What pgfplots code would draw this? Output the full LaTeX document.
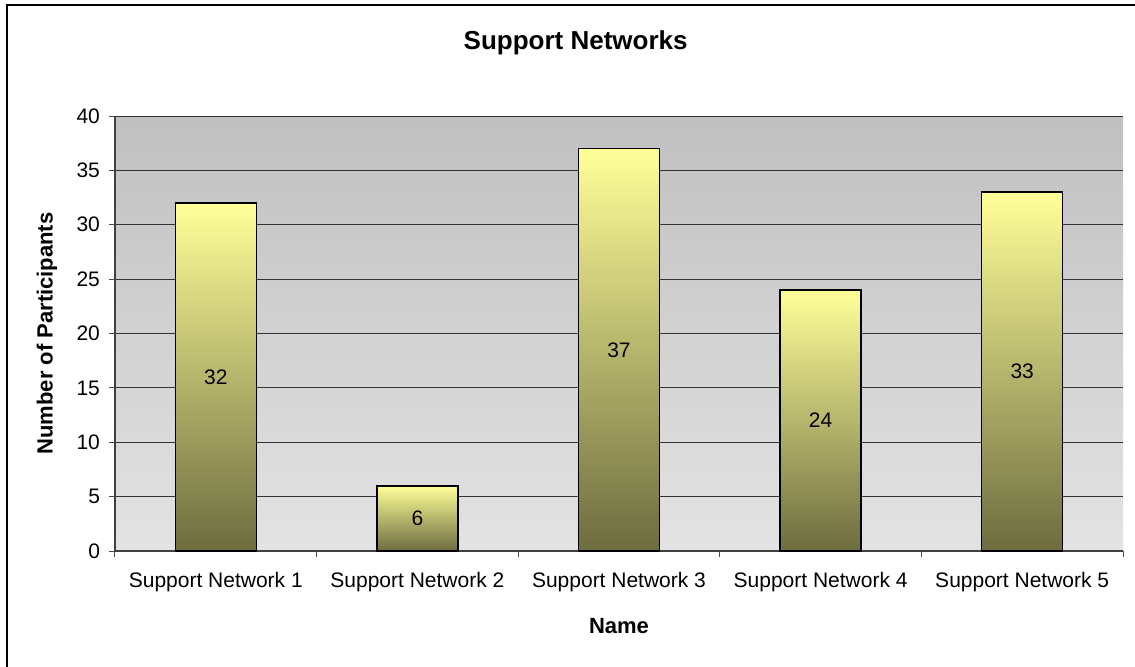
\documentclass[border=0pt]{standalone}
\usepackage{pgfplots}
\pgfplotsset{compat=1.18}
\usepackage{fontspec}
\setmainfont{Liberation Sans}

\definecolor{barTop}{RGB}{255,255,153}
\definecolor{barMid}{RGB}{212,212,128}
\definecolor{barBot}{RGB}{108,108,64}
\definecolor{bgTop}{RGB}{192,192,192}
\definecolor{bgBot}{RGB}{227,227,227}

% one shaded bar, value written at half its height
\pgfplotsset{
  networkbar/.style={
    ybar, bar width=40.5pt, bar shift=0pt,
    draw=black, line width=0.75pt,
    top color=barTop, middle color=barMid, bottom color=barBot,
    nodes near coords,
    visualization depends on={y \as \rawy},
    every node near coord/.append style={
      shift={(axis direction cs:0,-\rawy/2)},
      anchor=center, text=black,
      font=\fontsize{10.5pt}{12pt}\selectfont},
  },
}

\begin{document}
\begin{tikzpicture}
\useasboundingbox (-57.5pt,-57.5pt) rectangle (510pt,275.5pt);
\draw[line width=0.8pt] (-54pt,-90pt) rectangle (540pt,273pt);
\begin{axis}[
  at={(0,0)}, anchor=south west,
  scale only axis,
  width=504pt, height=217.5pt,
  xmin=-0.5, xmax=4.5,
  ymin=0, ymax=40,
  ytick={0,5,...,40},
  xtick={0,1,2,3,4},
  xticklabels={Support Network 1,Support Network 2,Support Network 3,Support Network 4,Support Network 5},
  minor xtick={-0.5,0.5,1.5,2.5,3.5,4.5},
  major x tick style={draw=none},
  minor x tick style={draw=black!70, line width=0.5pt},
  minor tick length=3pt,
  major tick length=3pt,
  tick align=outside,
  y tick style={draw=black!70, line width=0.5pt},
  axis lines*=left,
  axis line style={draw=black!75, line width=0.6pt},
  ymajorgrids,
  major grid style={draw=black!80, line width=0.5pt},
  axis background/.style={shade, top color=bgTop, bottom color=bgBot},
  /pgf/number format/assume math mode=true,
  tick label style={font=\fontsize{10.5pt}{12pt}\selectfont},
  xticklabel style={yshift=-4pt},
  yticklabel style={xshift=-1pt},
  title={\textbf{Support Networks}},
  every axis title/.style={at={(axis description cs:0.457,1.168)}, anchor=center, font=\fontsize{13pt}{15pt}\selectfont},
  xlabel={\textbf{Name}},
  ylabel={\textbf{Number of Participants}},
  every axis x label/.style={at={(axis description cs:0.5,-0.1724)}, anchor=center, font=\fontsize{11pt}{13pt}\selectfont},
  every axis y label/.style={at={(axis description cs:-0.0675,0.5)}, rotate=90, anchor=center, font=\fontsize{11pt}{13pt}\selectfont},
]
\addplot[networkbar] coordinates {(0,32)};
\addplot[networkbar] coordinates {(1,6)};
\addplot[networkbar] coordinates {(2,37)};
\addplot[networkbar] coordinates {(3,24)};
\addplot[networkbar] coordinates {(4,33)};
\end{axis}
\end{tikzpicture}
\end{document}
